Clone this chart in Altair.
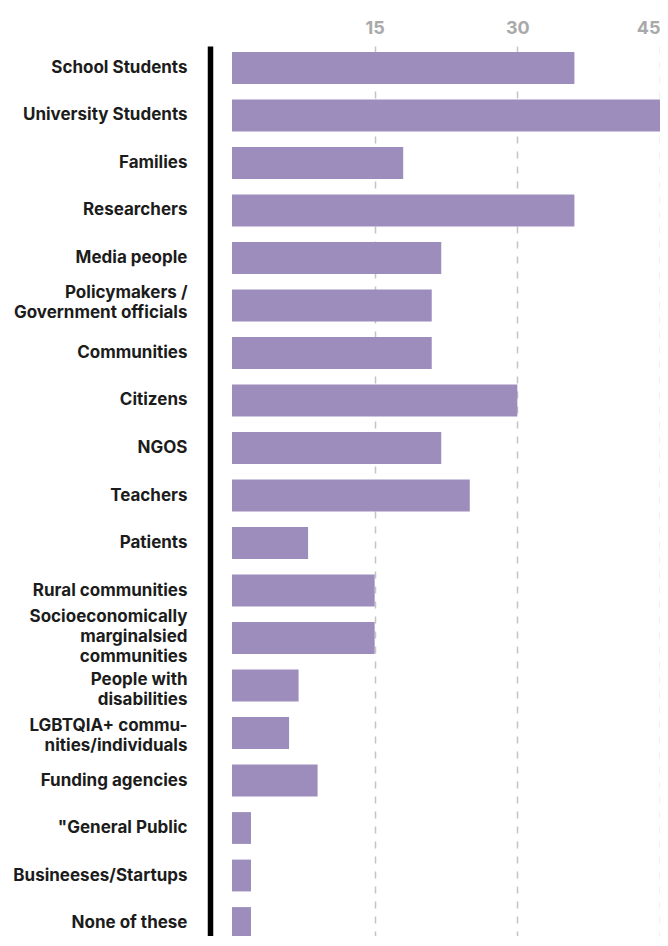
import altair as alt
import pandas as pd

categories = [
    "School Students",
    "University Students",
    "Families",
    "Researchers",
    "Media people",
    "Policymakers /|Government officials",
    "Communities",
    "Citizens",
    "NGOS",
    "Teachers",
    "Patients",
    "Rural communities",
    "Socioeconomically|marginalsied|communities",
    "People with|disabilities",
    "LGBTQIA+ commu-|nities/individuals",
    "Funding agencies",
    "\"General Public",
    "Busineeses/Startups",
    "None of these",
]
values = [36, 45, 18, 36, 22, 21, 21, 30, 22, 25, 8, 15, 15, 7, 6, 9, 2, 2, 2]
x_ticks = [15, 30, 45]

df = pd.DataFrame({"category": categories, "value": values})

label_offset = {
    "condition": [
        {"test": "indexof(datum.value, 'Socioeconomically') == 0", "value": -21},
        {"test": "indexof(datum.value, 'Policymakers') == 0", "value": -12},
        {"test": "indexof(datum.value, 'People with') == 0", "value": -6},
        {"test": "indexof(datum.value, 'LGBTQIA') == 0", "value": -7},
    ],
    "value": 0,
}

chart = (
    alt.Chart(df)
    .mark_bar(color="#9d8dbd")
    .encode(
        y=alt.Y(
            "category:N",
            sort=categories,
            title=None,
            scale=alt.Scale(paddingInner=0.33, paddingOuter=0.128),
            axis=alt.Axis(
                orient="left",
                domain=True,
                domainColor="#000000",
                domainWidth=5.5,
                offset=22,
                ticks=False,
                tickSize=0,
                labelPadding=23,
                labelFont="Inter",
                labelFontWeight="bold",
                labelFontSize=17,
                labelColor="#1c1c1c",
                labelLineHeight=20,
                labelAlign="right",
                labelBaseline="middle",
                labelLimit=400,
                labelOffset=label_offset,
                labelExpr="split(datum.label, '|')",
                grid=False,
            ),
        ),
        x=alt.X(
            "value:Q",
            title=None,
            scale=alt.Scale(domain=[0, 45], nice=False, zero=True),
            axis=alt.Axis(
                orient="top",
                values=x_ticks,
                domain=False,
                ticks=False,
                tickSize=0,
                labelPadding=13,
                labelBaseline="alphabetic",
                labelFont="Inter",
                labelFontWeight="bold",
                labelFontSize=18,
                labelColor="#a9a9a9",
                labelFlush=True,
                labelFlushOffset=0,
                grid=True,
                gridColor="#c4c4c4",
                gridWidth=1.5,
                gridDash=[7, 8],
            ),
        ),
    )
    .properties(
        width=428,
        height=899,
        autosize=alt.AutoSizeParams(type="none"),
        padding={"left": 224, "top": 38, "right": 0, "bottom": -9},
    )
    .configure_view(stroke=None)
)

chart.save("out.html", embed_options={"renderer": "svg", "actions": False})
